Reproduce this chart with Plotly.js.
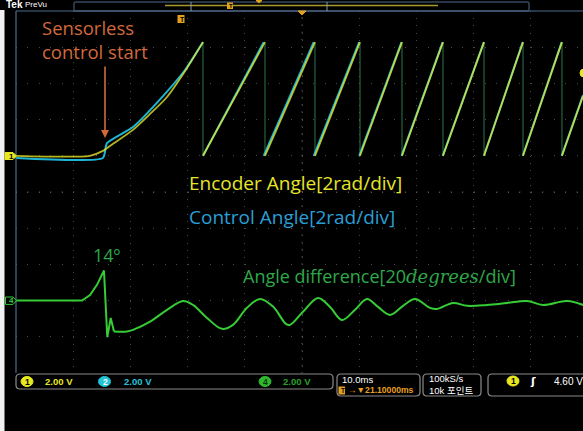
<!DOCTYPE html>
<html>
<head>
<meta charset="utf-8">
<script src="https://cdn.plot.ly/plotly-3.0.1.min.js"></script>
<style>
html,body{margin:0;padding:0;background:#000;overflow:hidden;width:583px;height:431px;}
#chart{width:583px;height:431px;}
</style>
</head>
<body>
<div id="chart"></div>
<script>
// ---------------- DATA ----------------
// Time in ms (10 ms/div), screen left edge = 0 ms
// Ch1 Encoder angle [rad], start-up segment
const encStartT = [0, 12.9, 15.2, 16.4, 20.45, 23.4, 26.4, 29.6, 32.69];
const encStartA = [0, 0, 0.27, 0.54, 1.43, 2.3, 3.25, 4.7, 6.28];
// times at which the encoder angle wraps from 2*pi to 0
const encWrapT = [32.69, 43.53, 52.27, 60.14, 67.48, 74.65, 81.82, 88.64, 95.45];
const encLastT = 99.13, encLastA = 3.3;

// Ch2 Control angle [rad]
const ctlStartT = [0, 15.2, 15.9, 20.45, 25.7, 29.55, 32.69];
const ctlStartA = [-0.12, -0.12, 0.7, 1.59, 3.3, 4.74, 6.28];
const ctlWrapT = [32.69, 43.3, 52.05, 60.0, 67.4, 74.6, 81.8, 88.6, 95.4];
const ctlLastT = 99.13, ctlLastA = 3.35;
const angleMax = 6.28;

// Ch4 Angle difference [deg]
const diffT = [0, 11.54, 12.94, 14.16, 15.38, 15.96, 16.56, 17.13, 19.41, 20.45, 23.43, 26.40, 29.20, 30.94, 33.39, 36.01, 37.94, 40.38, 42.66, 44.93, 47.20, 47.90, 50.17, 52.80, 54.90, 56.99, 59.27, 61.36, 63.29, 65.38, 67.66, 69.76, 72.38, 73.60, 76.40, 78.85, 82.34, 85.84, 89.34, 92.13, 96.33, 99.13];
const diffD = [0, 0, 3.1, 8.7, 16.6, -20.2, -9.6, -17.1, -17.1, -16.2, -11.6, -5.1, -0.2, -2.4, -9.6, -15.6, -13.4, -4.0, 0.9, -3.3, -12.9, -13.4, -6.2, 1.5, -3.5, -10.7, -5.1, 0.9, -3.5, -7.9, -2.9, 0.9, -4.0, -4.6, -1.3, -2.9, -2.4, -1.3, -0.2, -2.4, -0.2, -2.4];
const diffSpikeEnd = 7; // index where the start-up spike ends and the smooth oscillation begins

// scope channel scaling (divisions)
const ch1Offset = 1, ch1Scale = 2;    // 2 rad/div
const ch4Offset = -3, ch4Scale = 20;  // 20 deg/div

// ---------------- BUILD ----------------
function saw(startT, startA, wraps, lastT, lastA) {
  const x = startT.slice(), y = startA.slice();
  for (let i = 0; i < wraps.length; i++) {
    x.push(null); y.push(null);
    x.push(wraps[i]); y.push(0);
    if (i + 1 < wraps.length) { x.push(wraps[i + 1]); y.push(angleMax); }
    else { x.push(lastT); y.push(lastA); }
  }
  return {x: x, y: y.map(v => v === null ? null : ch1Offset + v / ch1Scale)};
}
function drops(wraps) {
  const x = [], y = [];
  wraps.forEach(t => { x.push(t, t, null); y.push(ch1Offset + angleMax / ch1Scale, ch1Offset, null); });
  return {x, y};
}
const enc = saw(encStartT, encStartA, encWrapT, encLastT, encLastA);
const ctl = saw(ctlStartT, ctlStartA, ctlWrapT, ctlLastT, ctlLastA);
const dr = drops(encWrapT);
const d4 = v => ch4Offset + v / ch4Scale;

const traces = [
  {x: dr.x, y: dr.y, mode: 'lines', line: {color: 'rgba(50,130,85,0.9)', width: 1}, hoverinfo: 'skip'},
  {x: ctl.x, y: ctl.y, mode: 'lines', line: {color: '#1fb6d6', width: 2, shape: 'spline', smoothing: 0.5}, hoverinfo: 'skip'},
  {x: enc.x, y: enc.y, mode: 'lines', line: {color: 'rgba(232,232,40,0.78)', width: 1.8, shape: 'spline', smoothing: 0.7}, hoverinfo: 'skip'},
  {x: diffT.slice(0, diffSpikeEnd + 1), y: diffD.slice(0, diffSpikeEnd + 1).map(d4), mode: 'lines',
   line: {color: '#36cc36', width: 2}, hoverinfo: 'skip'},
  {x: diffT.slice(diffSpikeEnd), y: diffD.slice(diffSpikeEnd).map(d4), mode: 'lines',
   line: {color: '#36cc36', width: 2, shape: 'spline', smoothing: 1}, hoverinfo: 'skip'}
];

// pixel -> paper helpers
const L = 16, W = 567, T = 11, H = 362;
const X = px => (px - L) / W;
const Y = py => (T + H - py) / H;
function rrect(x0, y0, x1, y1, r) {
  const a = X(x0), b = X(x1), c = Y(y0), d = Y(y1), rx = r / W, ry = r / H;
  return `M${a+rx},${c} L${b-rx},${c} Q${b},${c} ${b},${c-ry} L${b},${d+ry} Q${b},${d} ${b-rx},${d} L${a+rx},${d} Q${a},${d} ${a},${d+ry} L${a},${c-ry} Q${a},${c} ${a+rx},${c} Z`;
}
function pline(x0, y0, x1, y1, color, width, dash) {
  return {type: 'line', xref: 'paper', yref: 'paper', x0: X(x0), y0: Y(y0), x1: X(x1), y1: Y(y1),
          line: {color: color, width: width || 1, dash: dash || 'solid'}};
}
function pcircle(cx, cy, rx, ry, fill, stroke) {
  return {type: 'circle', xref: 'paper', yref: 'paper', x0: X(cx - rx), x1: X(cx + rx), y0: Y(cy + ry), y1: Y(cy - ry),
          fillcolor: fill, line: {color: stroke || fill, width: 1}};
}
function ppath(d, fill, stroke, w) {
  return {type: 'path', xref: 'paper', yref: 'paper', path: d, fillcolor: fill || 'rgba(0,0,0,0)', line: {color: stroke || 'rgba(0,0,0,0)', width: w || 1}};
}
function ptsPath(pts) {
  return 'M' + pts.map(p => X(p[0]) + ',' + Y(p[1])).join(' L') + ' Z';
}
function txt(px, py, s, color, size, opts) {
  opts = opts || {};
  return Object.assign({xref: 'paper', yref: 'paper', x: X(px), y: Y(py), text: s, showarrow: false,
    xanchor: 'left', yanchor: 'middle', align: 'left', borderpad: 0,
    font: {color: color, size: size, family: opts.family || 'Open Sans, sans-serif', weight: opts.weight || 'normal'}}, opts.extra || {});
}

const uiFont = 'Liberation Sans, Arial, sans-serif';
const shapes = [
  // left white strip
  {type: 'rect', xref: 'paper', yref: 'paper', x0: X(0), x1: X(4.5), y0: Y(431), y1: Y(10), fillcolor: '#f2f2f2', line: {width: 0}},
  // graticule border
  pline(16, 11, 583, 11, '#4e6c8c', 1.2),
  pline(16, 11, 16, 373, '#4e6c8c', 1.2),
  // center cross (denser dots)
  {type: 'line', xref: 'x', yref: 'paper', x0: 50, x1: 50, y0: 0, y1: 1, line: {color: '#6a6a6a', width: 1, dash: '1px,6.24px'}},
  {type: 'line', xref: 'paper', yref: 'y', x0: 0, x1: 1, y0: 0, y1: 0, line: {color: '#6a6a6a', width: 1, dash: '1px,10.44px'}},
  // record view box at top
  ppath(rrect(74, 2, 529, 11, 1), 'rgba(0,0,0,0)', '#4e6c8c', 1),
  pline(165, 5.5, 438, 5.5, '#a89a2a', 1.5),
  pline(191, 2, 191, 11, '#8a9ab0', 1),
  pline(327, 2, 327, 11, '#8a9ab0', 1),
  ppath(ptsPath([[256, 0.5], [262, 0.5], [259, 3]]), '#e0a020', '#e0a020', 1),
  // trigger position marker
  ppath(ptsPath([[298, 11], [306, 11], [302, 15]]), '#e0a020', '#e0a020', 1),
  // ch1 marker
  ppath(ptsPath([[5, 152.5], [13, 152.5], [16.5, 156], [13, 159.5], [5, 159.5]]), '#e8e820', '#e8e820', 1),
  // ch4 marker
  ppath(ptsPath([[5.5, 297], [13, 297], [16.5, 300.7], [13, 304.4], [5.5, 304.4]]), 'rgba(0,0,0,0)', '#36cc36', 1),
  // ch1 trigger level marker at right edge
  pcircle(584, 73, 4, 4, '#e8e820'),
  // bottom status boxes
  ppath(rrect(16, 374, 333, 389, 4), 'rgba(0,0,0,0)', '#8a8a8a', 1.2),
  ppath(rrect(337, 374, 420, 396, 4), 'rgba(0,0,0,0)', '#8a8a8a', 1.2),
  ppath(rrect(423, 374, 481, 396, 4), 'rgba(0,0,0,0)', '#8a8a8a', 1.2),
  ppath(rrect(488, 374, 592, 396, 4), 'rgba(0,0,0,0)', '#8a8a8a', 1.2),
  pcircle(27, 381.5, 6, 5, '#e8e820'),
  pcircle(104.5, 381.5, 6, 5, '#22c4d8'),
  pcircle(265, 381.5, 6, 5, '#2fb82f'),
  pcircle(513, 381, 6, 5, '#e8e820'),
  // orange T markers
  {type: 'rect', xref: 'paper', yref: 'paper', x0: X(177.5), x1: X(184.5), y0: Y(23), y1: Y(15), fillcolor: '#e0a020', line: {width: 0}},
  {type: 'rect', xref: 'paper', yref: 'paper', x0: X(227), x1: X(233), y0: Y(9), y1: Y(2.5), fillcolor: '#e0a020', line: {width: 0}},
  {type: 'rect', xref: 'paper', yref: 'paper', x0: X(338.5), x1: X(345), y0: Y(394.5), y1: Y(386.5), fillcolor: '#e0a020', line: {width: 0}}
];

const annotations = [
  txt(5, 5, 'Tek', '#ffffff', 10, {family: uiFont, weight: 'bold'}),
  txt(24, 5, 'PreVu', '#ffffff', 8, {family: uiFont}),
  txt(178.5, 19, 'T', '#000000', 7, {family: uiFont, weight: 'bold'}),
  txt(228, 5.8, 'T', '#000000', 6, {family: uiFont, weight: 'bold'}),
  txt(339.5, 390.5, 'T', '#000000', 6.5, {family: uiFont, weight: 'bold'}),
  txt(7.5, 156, '1', '#000000', 8, {family: uiFont, weight: 'bold'}),
  txt(7.5, 300.7, '4', '#36cc36', 8, {family: uiFont, weight: 'bold'}),
  // overlay labels
  txt(41, 39, 'Sensorless<br>control start', '#d2693c', 18.5),
  {xref: 'paper', yref: 'paper', x: X(105), y: Y(138), ax: 0, ay: -73, text: '', showarrow: true,
   arrowhead: 2, arrowsize: 1, arrowwidth: 1.6, arrowcolor: '#d2693c'},
  txt(188, 183, 'Encoder Angle[2rad/div]', '#e5e52a', 19),
  txt(188, 217, 'Control Angle[2rad/div]', '#2a9fd6', 19),
  txt(92, 255, '14º', '#2ea84a', 18),
  txt(242, 276, 'Angle difference[20<span style="font-family:\'DejaVu Serif\',serif;font-style:italic">degrees</span>/div]', '#2ea84a', 18),
  // status bar
  txt(24, 381.5, '1', '#000000', 8.5, {family: uiFont, weight: 'bold'}),
  txt(44, 381.5, '2.00 V', '#e8e820', 9.5, {family: uiFont, weight: 'bold'}),
  txt(101.5, 381.5, '2', '#ffffff', 8.5, {family: uiFont, weight: 'bold'}),
  txt(123, 381.5, '2.00 V', '#22c4d8', 9.5, {family: uiFont, weight: 'bold'}),
  txt(262, 381.5, '4', '#0a3a0a', 8.5, {family: uiFont, weight: 'bold'}),
  txt(282, 381.5, '2.00 V', '#2aa02a', 9.5, {family: uiFont, weight: 'bold'}),
  txt(341, 379.5, '10.0ms', '#ffffff', 9.5, {family: uiFont}),
  txt(346.5, 390.5, '→▼21.10000ms', '#e8a020', 8.6, {family: uiFont, weight: 'bold'}),
  txt(428, 385, '100kS/s<br>10k 포인트', '#ffffff', 9.5, {family: 'Liberation Sans, Noto Sans CJK KR, sans-serif'}),
  txt(510, 381, '1', '#000000', 8.5, {family: uiFont, weight: 'bold'}),
  txt(529, 381, 'ʃ', '#ffffff', 11, {family: 'DejaVu Sans, sans-serif', weight: 'bold'}),
  txt(553, 381, '4.60 V', '#ffffff', 10, {family: uiFont})
];

const layout = {
  width: 583, height: 431,
  margin: {l: L, r: 0, t: T, b: 431 - T - H, pad: 0},
  paper_bgcolor: '#000000', plot_bgcolor: '#000000',
  showlegend: false,
  font: {family: 'Open Sans, sans-serif', color: '#ffffff'},
  xaxis: {range: [0, 99.125], showticklabels: false, ticks: '', zeroline: false, showline: false,
          tick0: 0, dtick: 10, showgrid: true, gridcolor: '#484848', gridwidth: 1, griddash: '1px,6.24px', fixedrange: true},
  yaxis: {range: [-5, 5], showticklabels: false, ticks: '', zeroline: false, showline: false,
          tick0: 0, dtick: 1, showgrid: true, gridcolor: '#484848', gridwidth: 1, griddash: '1px,10.44px', fixedrange: true},
  shapes: shapes,
  annotations: annotations
};

Plotly.newPlot('chart', traces, layout, {staticPlot: true, displayModeBar: false});
</script>
</body>
</html>
